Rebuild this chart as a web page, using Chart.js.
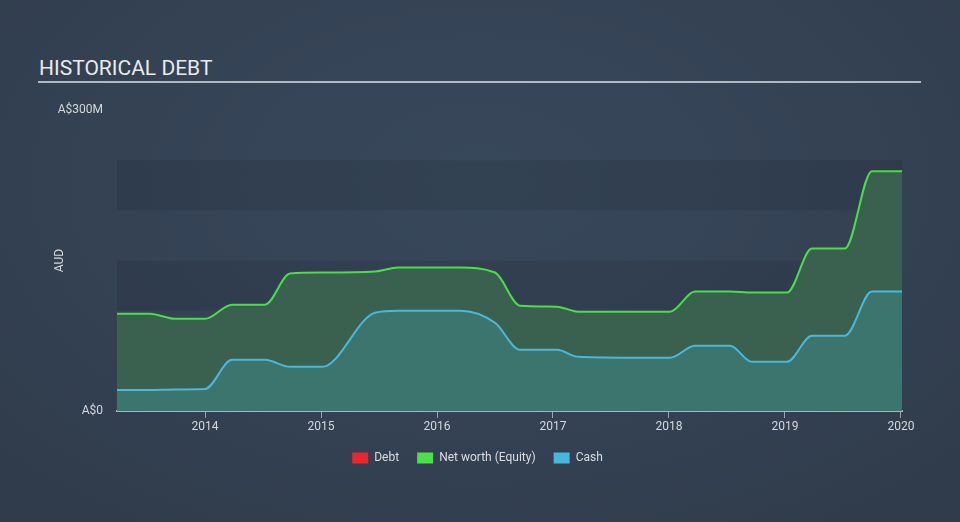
<!DOCTYPE html>
<html>
<head>
<meta charset="utf-8">
<script src="https://cdn.jsdelivr.net/npm/chart.js@4"></script>
<style>
  html, body { margin:0; padding:0; }
  body { width:960px; height:522px; overflow:hidden;
    background: radial-gradient(ellipse 70% 80% at 50% 35%, #38485b 0%, #344254 55%, #303c4b 100%); }
  #wrap { position:relative; width:960px; height:522px; }
  #title { position:absolute; left:39px; top:56px; font-family:Roboto, sans-serif; font-size:21px; color:#e9ebee; letter-spacing:0px; }
  #rule { position:absolute; left:38px; top:81px; width:883px; height:2px; background:#b3b8be; }
  canvas { position:absolute; left:0; top:0; }
</style>
</head>
<body>
<div id="wrap">
  <div id="title">HISTORICAL DEBT</div>
  <div id="rule"></div>
  <canvas id="c" width="960" height="522"></canvas>
</div>
<script>
// ---- data (decimal years, values in A$ millions) ----
const dates = [2013.241, 2013.526, 2013.741, 2014.0, 2014.233, 2014.517, 2014.733, 2015.009, 2015.466, 2015.664, 2016.198, 2016.5, 2016.716, 2017.034, 2017.216, 2017.75, 2018.009, 2018.224, 2018.526, 2018.716, 2019.017, 2019.233, 2019.517, 2019.75, 2020.009];
const netWorth = [97, 97, 92, 92, 106, 106, 137, 138, 139, 143, 143, 138, 105, 104, 99, 99, 99, 119, 119, 118, 118, 162, 162, 239, 239];
const cash = [21, 21, 21.5, 22, 51, 51, 44, 44, 98, 100, 100, 88, 61, 61, 54, 53, 53, 65, 65, 49, 49, 75, 75, 119, 119];
const debt = [0, 0, 0, 0, 0, 0, 0, 0, 0, 0, 0, 0, 0, 0, 0, 0, 0, 0, 0, 0, 0, 0, 0, 0, 0];
const seriesNames = ['Debt', 'Net worth (Equity)', 'Cash'];
const xTicks = [2014, 2015, 2016, 2017, 2018, 2019, 2020];
const yTicks = [0, 300];
const yTickLabels = ['A$0', 'A$300M'];
const bandEdges = [0, 50, 100, 150, 200, 250];

const legendColors = ['#e8262b', '#4de04b', '#47b8dc'];

const toPts = arr => arr.map((v, i) => ({x: dates[i], y: v}));

const bandPlugin = {
  id: 'bands',
  beforeDatasetsDraw(chart) {
    const {ctx, chartArea, scales: {y}} = chart;
    ctx.save();
    for (let i = 0; i < bandEdges.length - 1; i++) {
      const top = y.getPixelForValue(bandEdges[i + 1]);
      const bot = y.getPixelForValue(bandEdges[i]);
      ctx.fillStyle = (i % 2 === 0) ? 'rgba(0,0,0,0.08)' : 'rgba(255,255,255,0.0)';
      ctx.fillRect(chartArea.left, top, chartArea.right - chartArea.left, bot - top);
    }
    ctx.restore();
  }
};

new Chart(document.getElementById('c'), {
  type: 'line',
  data: {
    datasets: [
      { label: seriesNames[0], data: toPts(debt), borderColor: 'rgba(232,38,43,0)', backgroundColor: legendColors[0], borderWidth: 0, fill: false, pointRadius: 0, order: 0 },
      { label: seriesNames[1], data: toPts(netWorth), borderColor: '#4ddc4a', backgroundColor: '#3a614f', borderWidth: 2, fill: 'origin', pointRadius: 0, cubicInterpolationMode: 'monotone', order: 2 },
      { label: seriesNames[2], data: toPts(cash), borderColor: '#4bb8d9', backgroundColor: '#3c746e', borderWidth: 2, fill: 'origin', pointRadius: 0, cubicInterpolationMode: 'monotone', order: 1 }
    ]
  },
  options: {
    responsive: false,
    animation: false,
    layout: { padding: { left: 53, right: 58, top: 110, bottom: 48 } },
    plugins: {
      tooltip: { enabled: false },
      legend: {
        position: 'bottom',
        labels: {
          color: '#d9dde2',
          font: { family: 'Roboto', size: 12 },
          boxWidth: 16,
          boxHeight: 11,
          padding: 18,
          sort: (a, b) => a.datasetIndex - b.datasetIndex,
          generateLabels: chart => chart.data.datasets.map((ds, i) => ({
            text: ds.label, fillStyle: legendColors[i], strokeStyle: legendColors[i], lineWidth: 0, datasetIndex: i, hidden: false, fontColor: '#d9dde2'
          }))
        }
      }
    },
    scales: {
      x: {
        type: 'linear',
        min: dates[0],
        max: dates[dates.length - 1],
        afterBuildTicks: s => { s.ticks = xTicks.map(v => ({value: v})); },
        afterFit: s => { s.height = 23; },
        ticks: { color: '#d4d8dd', font: { family: 'Roboto', size: 12 }, padding: 2, maxRotation: 0, callback: v => String(v) },
        grid: { display: true, drawOnChartArea: false, drawTicks: true, tickLength: 7, color: '#9ba4ae', lineWidth: 1 },
        border: { display: true, color: '#b8aeb1', width: 2 }
      },
      y: {
        min: 0,
        max: 300,
        afterBuildTicks: s => { s.ticks = yTicks.map(v => ({value: v})); },
        afterFit: s => { s.width = 64; },
        ticks: { color: '#d4d8dd', font: { family: 'Roboto', size: 12 }, padding: 6, callback: (v) => yTickLabels[yTicks.indexOf(v)] },
        grid: { display: false },
        border: { display: false },
        title: { display: true, text: 'AUD', color: '#d4d8dd', font: { family: 'Roboto', size: 12 }, padding: 0 }
      }
    }
  },
  plugins: [bandPlugin]
});
</script>
</body>
</html>
